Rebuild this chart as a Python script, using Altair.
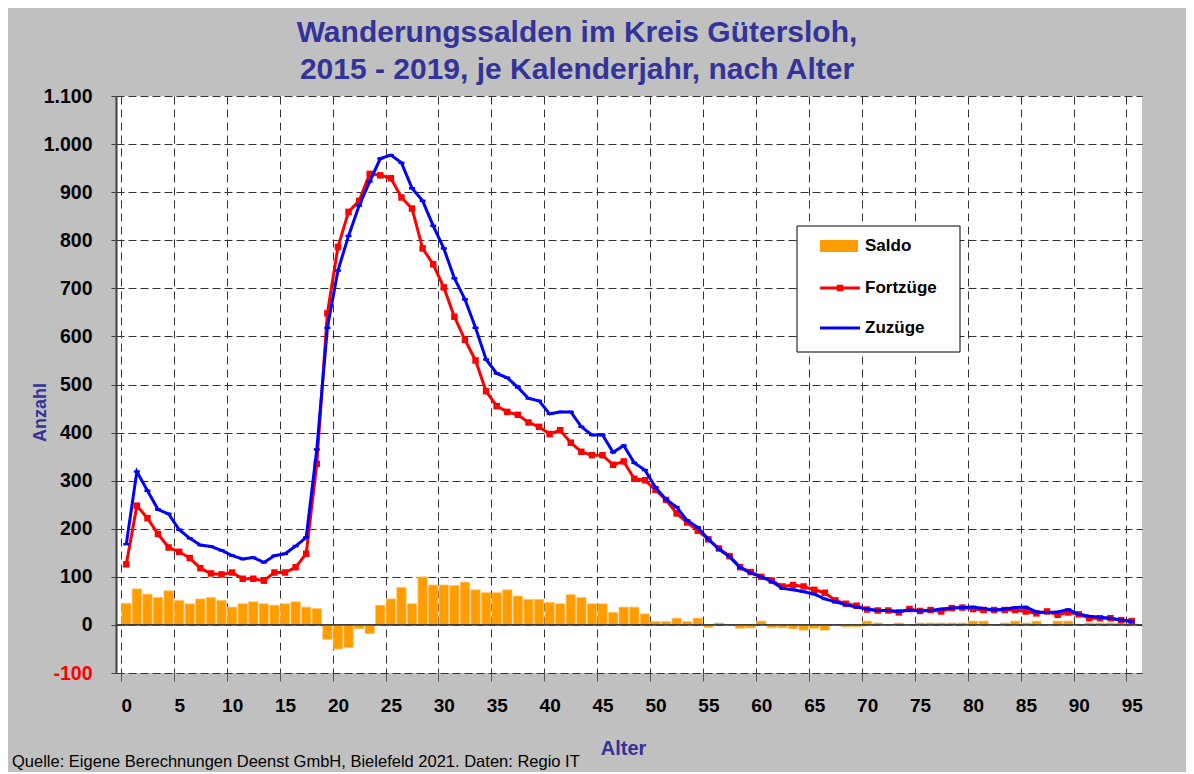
import altair as alt
import pandas as pd

# ---------------- data ----------------
ages = list(range(0, 96))

fortzuege = [126, 248, 222, 189, 161, 152, 139, 118, 107, 105,
             109, 96, 96, 92, 109, 109, 120, 148, 335, 648,
             786, 859, 882, 938, 935, 929, 889, 866, 783, 750,
             702, 641, 593, 550, 486, 455, 443, 437, 421, 412,
             397, 405, 379, 360, 353, 353, 333, 340, 304, 301,
             281, 260, 232, 213, 196, 178, 159, 143, 120, 110,
             100, 92, 80, 83, 80, 73, 67, 51, 44, 40,
             32, 30, 30, 26, 33, 29, 31, 28, 35, 36,
             33, 31, 31, 31, 31, 28, 24, 28, 21, 26,
             22, 14, 14, 14, 10, 8]

zuzuege = [168, 319, 279, 240, 231, 198, 180, 166, 163, 155,
           144, 137, 140, 130, 144, 148, 164, 182, 365, 618,
           737, 809, 872, 922, 970, 977, 961, 908, 882, 830,
           783, 721, 677, 618, 552, 523, 514, 494, 471, 466,
           439, 443, 443, 412, 395, 395, 359, 373, 337, 322,
           286, 261, 245, 217, 203, 178, 157, 142, 119, 108,
           100, 90, 76, 73, 69, 64, 54, 48, 42, 37,
           33, 30, 30, 28, 31, 29, 30, 33, 35, 36,
           37, 34, 31, 33, 36, 37, 27, 26, 27, 32,
           22, 18, 16, 14, 10, 7]

saldo = [45, 75, 64, 57, 71, 51, 44, 54, 57, 51,
         37, 44, 48, 44, 41, 44, 48, 37, 34, -30,
         -50, -47, -8, -18, 41, 54, 78, 44, 100, 83,
         83, 82, 89, 73, 67, 67, 73, 60, 53, 53,
         47, 44, 63, 57, 44, 44, 26, 37, 37, 23,
         7, 7, 14, 7, 14, -5, 4, 0, -7, -6,
         8, -6, -6, -8, -11, -7, -11, 0, -4, -4,
         8, 4, 0, 4, 0, 4, 4, 4, 4, 4,
         8, 8, 0, 4, 8, 4, 8, 0, 8, 8,
         0, 4, 4, 4, 4, 3]

series_names = ["Saldo", "Fortzüge", "Zuzüge"]
x_grid_values = [-0.5 + 5 * i for i in range(20)]
y_tick_values = list(range(-100, 1101, 100))

title_lines = ["Wanderungssalden im Kreis Gütersloh,",
               "2015 - 2019, je Kalenderjahr, nach Alter"]
source_note = "Quelle: Eigene Berechnungen Deenst GmbH, Bielefeld 2021. Daten: Regio IT"

df = pd.DataFrame({"age": ages, "fort": fortzuege, "zu": zuzuege, "saldo": saldo})
dummy = pd.DataFrame({"k": [0]})

FONT = "Liberation Sans"
BLUE_T = "#333399"

W, H = 1026, 577

xscale = alt.Scale(domain=[-0.5, 95.5], nice=False, zero=False)
yscale = alt.Scale(domain=[-100, 1100], nice=False)

xaxis = alt.Axis(
    values=x_grid_values,
    labelExpr="format(datum.value + 0.5, 'd')",
    labelOffset=5.34,
    labelOverlap=False, labelFlush=False,
    grid=True, gridDash=[8, 5], gridColor="#333333", gridWidth=1,
    domain=False, tickSize=8, tickColor="#555555",
    labelFont=FONT, labelFontSize=19, labelFontWeight="bold", labelColor="black",
    labelPadding=15,
    title="Alter", titleFont=FONT, titleFontSize=20, titleFontWeight="bold",
    titleColor=BLUE_T, titleX=507, titleY=75, titleAlign="center",
    titleBaseline="middle",
)

yaxis = alt.Axis(
    values=y_tick_values,
    labelExpr="datum.value < 0 ? '-' + abs(datum.value) : replace(format(datum.value, ','), ',', '.')",
    labelColor={"condition": {"test": "datum.value < 0", "value": "#FF0000"}, "value": "black"},
    labelOverlap=False, labelFlush=False,
    grid=True, gridDash=[8, 4], gridColor="#333333", gridWidth=1,
    domainColor="#404040", domainWidth=2,
    tickSize=5, tickColor="#404040",
    labelFont=FONT, labelFontSize=19.5, labelFontWeight="bold", labelPadding=19,
    title="Anzahl", titleFont=FONT, titleFontSize=18, titleFontWeight="bold",
    titleColor=BLUE_T, titleX=-76, titleY=316, titleAngle=270,
    titleAlign="center", titleBaseline="middle",
)

bars = alt.Chart(df).mark_bar(size=9.4, color="#FF9D00", stroke="#FFC266",
                              strokeWidth=0.7).encode(
    x=alt.X("age:Q", scale=xscale, axis=xaxis),
    y=alt.Y("saldo:Q", scale=yscale, axis=yaxis),
)

zero_line = alt.Chart(dummy).mark_rule(color="#404040", strokeWidth=1.6).encode(
    y=alt.datum(0, scale=yscale)
)

red_line = alt.Chart(df).mark_line(color="#FF0000", strokeWidth=3).encode(
    x=alt.X("age:Q", scale=xscale), y=alt.Y("fort:Q", scale=yscale))
red_pts = alt.Chart(df).mark_square(color="#FF0000", size=42, opacity=1).encode(
    x=alt.X("age:Q", scale=xscale), y=alt.Y("fort:Q", scale=yscale))

blue_line = alt.Chart(df).mark_line(color="#0000FF", strokeWidth=3).encode(
    x=alt.X("age:Q", scale=xscale), y=alt.Y("zu:Q", scale=yscale))
blue_pts = alt.Chart(df).mark_tick(color="#0000FF", size=6, thickness=2.5,
                                   orient="horizontal", opacity=1).encode(
    x=alt.X("age:Q", scale=xscale), y=alt.Y("zu:Q", scale=yscale))

# ---------------- legend (manual) ----------------
leg_box = alt.Chart(dummy).mark_rect(fill="white", stroke="black", strokeWidth=1).encode(
    x=alt.value(681), x2=alt.value(844), y=alt.value(130), y2=alt.value(256))
leg_saldo = alt.Chart(dummy).mark_rect(color="#FF9D00").encode(
    x=alt.value(704), x2=alt.value(742), y=alt.value(144), y2=alt.value(156))
leg_red = alt.Chart(dummy).mark_rule(color="#FF0000", strokeWidth=3).encode(
    x=alt.value(704), x2=alt.value(744), y=alt.value(192))
leg_red_pt = alt.Chart(dummy).mark_square(color="#FF0000", size=42, opacity=1).encode(
    x=alt.value(724), y=alt.value(192))
leg_blue = alt.Chart(dummy).mark_rule(color="#0000FF", strokeWidth=3).encode(
    x=alt.value(704), x2=alt.value(744), y=alt.value(232))

leg_texts = []
for name, ypos in zip(series_names, [150, 192, 232]):
    leg_texts.append(
        alt.Chart(dummy).mark_text(align="left", baseline="middle", font=FONT,
                                   fontSize=17, fontWeight="bold", color="black").encode(
            x=alt.value(749), y=alt.value(ypos), text=alt.value(name)))

source = alt.Chart(dummy).mark_text(align="left", baseline="alphabetic",
                                    font=FONT, fontSize=16.5,
                                    color="black").encode(
    x=alt.value(-104), y=alt.value(671), text=alt.value(source_note))

chart = alt.layer(
    bars, zero_line, red_line, red_pts, blue_line, blue_pts,
    leg_box, leg_saldo, leg_red, leg_red_pt, leg_blue, *leg_texts, source
).properties(
    width=W, height=H,
    title=alt.TitleParams(text=title_lines, font=FONT, fontSize=30, fontWeight="bold",
                          color=BLUE_T, anchor="middle", dx=-52, lineHeight=37,
                          offset=1),
    autosize=alt.AutoSizeParams(type="none"),
    padding={"left": 108, "top": 88, "right": 44, "bottom": 99},
).configure(
    background="#C0C0C0",
).configure_view(
    fill="white", strokeWidth=0,
)

chart.save("out.html", embed_options={"renderer": "svg", "actions": False})
